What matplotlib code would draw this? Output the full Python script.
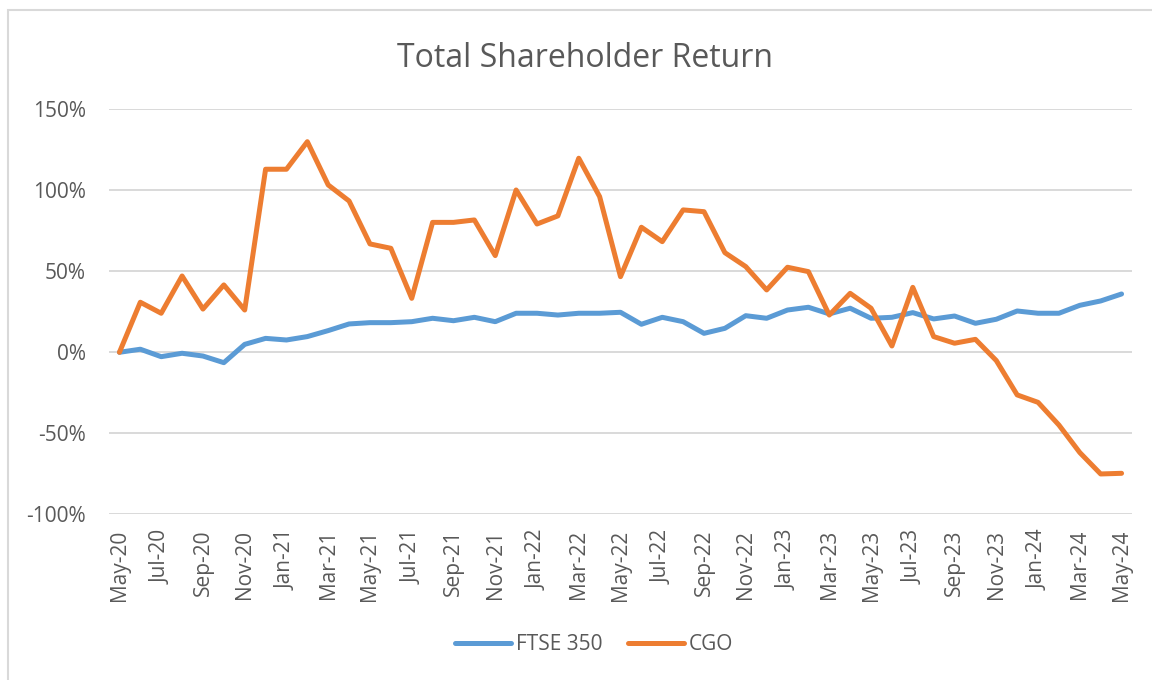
import matplotlib
matplotlib.use('Agg')
import matplotlib.pyplot as plt
from matplotlib.patches import Rectangle
from matplotlib.ticker import FuncFormatter
import pandas as pd

# monthly categories May-20 .. May-24
months = [d.strftime('%b-%y') for d in pd.date_range('2020-05-01', '2024-05-01', freq='MS')]

# total shareholder return, %
ftse350 = [0, 1.9, -2.7, -0.6, -2.3, -6.4, 4.9, 8.6, 7.6, 9.7,
           13.4, 17.5, 18.3, 18.3, 18.9, 21.0, 19.5, 21.6, 18.9, 24.1,
           24.1, 23.0, 24.1, 24.1, 24.7, 17.3, 21.6, 18.9, 11.7, 14.8,
           22.6, 21.0, 26.1, 27.8, 23.7, 27.2, 21.0, 21.6, 24.5, 20.6,
           22.4, 17.9, 20.4, 25.5, 24.1, 24.1, 29.0, 31.7, 36.0]
cgo = [0, 30.9, 24.1, 47.1, 26.7, 41.6, 26.1, 113.0, 113.0, 130.0,
       103.3, 93.4, 66.9, 64.2, 33.3, 80.2, 80.2, 81.7, 59.7, 100.2,
       79.2, 84.2, 119.8, 96.1, 46.7, 77.2, 68.3, 87.9, 86.8, 61.5,
       52.9, 38.5, 52.5, 49.8, 23.0, 36.4, 27.2, 3.9, 40.1, 9.7,
       5.6, 8.0, -5.1, -26.3, -30.9, -44.9, -61.9, -75.1, -74.7]

series_names = ['FTSE 350', 'CGO']
series_colors = ['#5B9BD5', '#ED7D31']
y_ticks = [-100, -50, 0, 50, 100, 150]

txt_col = '#595959'
grid_col = '#D9D9D9'
plt.rcParams['font.family'] = ['Open Sans', 'DejaVu Sans']

fig = plt.figure(figsize=(11.52, 6.8), dpi=100)
ax = fig.add_axes([109/1152, 1 - 514.3/680, (1132-109)/1152, (514.3-109.3)/680])

x = list(range(len(months)))
for vals, name, col in zip([ftse350, cgo], series_names, series_colors):
    ax.plot(x, vals, color=col, lw=3.6, label=name, solid_joinstyle='round', solid_capstyle='round')

ax.set_xlim(-0.5, len(months) - 0.5)
ax.set_ylim(-100, 150)
ax.set_yticks(y_ticks)
ax.yaxis.set_major_formatter(FuncFormatter(lambda v, p: '{:.0f}%'.format(v)))
ax.set_xticks(x[::2])
ax.set_xticklabels(months[::2], rotation=90)

ax.grid(axis='y', color=grid_col, lw=1.4)
ax.set_axisbelow(True)
for s in ax.spines.values():
    s.set_visible(False)
ax.tick_params(axis='y', length=0, pad=16.5, labelsize=15, labelcolor=txt_col)
ax.tick_params(axis='x', length=0, pad=11, labelsize=15, labelcolor=txt_col)

fig.text(585/1152, 1 - 67/680, 'Total Shareholder Return', ha='center', va='baseline',
         fontsize=23, color=txt_col)

leg = fig.legend(loc='center', bbox_to_anchor=(594/1152, 1 - 645/680), ncol=2, frameon=False,
                 fontsize=15, handlelength=2.7, handletextpad=0.25, columnspacing=1.2)
for t in leg.get_texts():
    t.set_color(txt_col)

# chart area border
fig.add_artist(Rectangle((8/1152, -0.1), 1.2, 1 - 10/680 + 0.1, transform=fig.transFigure,
                         fill=False, edgecolor=grid_col, lw=1.5))

fig.savefig('out.png', dpi=100)
